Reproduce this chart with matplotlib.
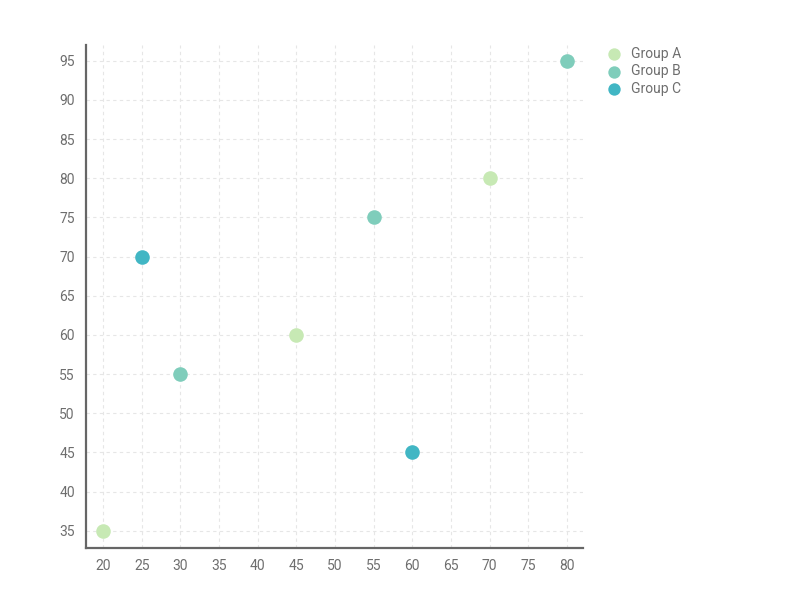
import matplotlib.pyplot as plt

plt.rcParams['font.family'] = ['Roboto', 'DejaVu Sans']

# data
groups = ['Group A', 'Group B', 'Group C']
a_x = [20, 45, 70]
a_y = [35, 60, 80]
b_x = [30, 55, 80]
b_y = [55, 75, 95]
c_x = [25, 60]
c_y = [70, 45]
colors = ['#c7e9b4', '#7fcdbb', '#41b6c4']

fig = plt.figure(figsize=(8, 6), dpi=100)
ax = fig.add_axes([0.1075, 0.0867, 0.6215, 0.8383])

for name, xs, ys, col in zip(groups, [a_x, b_x, c_x], [a_y, b_y, c_y], colors):
    ax.scatter(xs, ys, s=110, color=col, label=name, zorder=3, linewidths=0)

ax.set_xlim(17.8, 82.1)
ax.set_ylim(32.8, 97.0)
ax.set_xticks(range(20, 81, 5))
ax.set_yticks(range(35, 96, 5))
ax.grid(True, color='#e6e6e6', linestyle=(0, (3, 3)), linewidth=0.8)
ax.set_axisbelow(True)

for s in ['top', 'right']:
    ax.spines[s].set_visible(False)
for s in ['left', 'bottom']:
    ax.spines[s].set_color('#666666')
    ax.spines[s].set_linewidth(1.6)
ax.tick_params(length=0, labelsize=10, labelcolor='#6e6e6e', pad=8)

leg = fig.legend(loc='upper left', bbox_to_anchor=(0.735, 0.943), frameon=False,
                 fontsize=10, handletextpad=0.2, labelspacing=0.25, markerscale=0.85)
for t in leg.get_texts():
    t.set_color('#6e6e6e')

fig.savefig('out.png', dpi=100)
